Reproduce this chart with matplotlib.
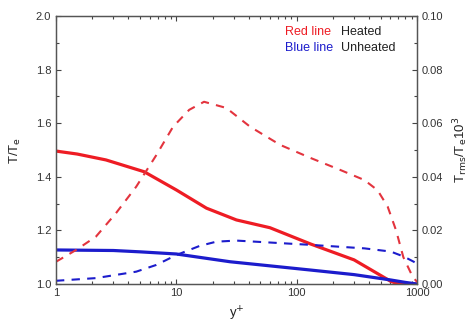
import numpy as np
import matplotlib.pyplot as plt
from matplotlib.ticker import MultipleLocator, LogLocator, NullFormatter, FixedLocator

plt.rcParams['font.family'] = ['Liberation Sans', 'DejaVu Sans']

# mean temperature T/Te (left axis)
yp_heat = [1, 1.5, 2.6, 5.4, 10, 17.8, 31.6, 60, 131, 300, 605, 700, 850, 1000]
t_heat = [1.496, 1.485, 1.463, 1.419, 1.351, 1.283, 1.239, 1.21, 1.149, 1.09, 1.01, 1.0, 1.0, 1.0]

yp_unh = [1, 3, 5, 10, 28, 131, 300, 605, 800, 1000]
t_unh = [1.127, 1.125, 1.12, 1.112, 1.083, 1.052, 1.035, 1.015, 1.006, 1.0]

# rms fluctuation Trms/Te (right axis)
yp_rms_heat = [1, 1.47, 2.15, 3.16, 4.64, 6.8, 9.4, 12.8, 17, 26, 41, 73, 131, 232, 365,
               470, 570, 670, 770, 920, 1000]
rms_heat = [0.0083, 0.0127, 0.0177, 0.0265, 0.0363, 0.048, 0.0587, 0.065, 0.068, 0.0657,
            0.0587, 0.0519, 0.047, 0.0425, 0.0388, 0.035, 0.0289, 0.020, 0.010, 0.0027, 0.0008]

yp_rms_unh = [1, 2.15, 4.64, 6.8, 10, 15.6, 21.5, 31.6, 131, 365, 605, 780, 940, 1000]
rms_unh = [0.0012, 0.0022, 0.0046, 0.0071, 0.0108, 0.0142, 0.0158, 0.0162, 0.0146, 0.0133,
           0.0121, 0.0102, 0.0083, 0.0075]

red = '#ee1c24'
blue = '#1c1ccc'
grey = '#444444'

fig = plt.figure(figsize=(4.72, 3.27), dpi=100)
ax = fig.add_axes([0.1186, 0.1315, 0.7649, 0.8195])
ax2 = ax.twinx()

ax.plot(yp_heat, t_heat, color=red, lw=2.3, solid_capstyle='butt')
ax.plot(yp_unh, t_unh, color=blue, lw=2.3, solid_capstyle='butt')
ax2.plot(yp_rms_heat, rms_heat, color='#e3343e', lw=1.5, dashes=(4, 3.5))
ax2.plot(yp_rms_unh, rms_unh, color=blue, lw=1.5, dashes=(4, 3.5))

ax.set_xscale('log')
ax.set_xlim(1, 1000)
ax.set_ylim(1.0, 2.0)
ax2.set_ylim(0.0, 0.1)

ax.xaxis.set_major_locator(FixedLocator([1, 10, 100, 1000]))
ax.set_xticklabels(['1', '10', '100', '1000'])
ax.xaxis.set_minor_locator(LogLocator(base=10, subs=np.arange(2, 10)))
ax.xaxis.set_minor_formatter(NullFormatter())
ax.yaxis.set_major_locator(MultipleLocator(0.2))
ax.yaxis.set_minor_locator(MultipleLocator(0.1))
ax.yaxis.set_major_formatter(plt.FuncFormatter(lambda v, p: f"{v:.1f}"))
ax2.yaxis.set_major_locator(MultipleLocator(0.02))
ax2.yaxis.set_minor_locator(MultipleLocator(0.01))
ax2.yaxis.set_major_formatter(plt.FuncFormatter(lambda v, p: f"{v:.2f}"))

for a in (ax, ax2):
    a.tick_params(which='both', direction='in', colors=grey, labelcolor='#333333',
                  labelsize=8, width=0.8)
    a.tick_params(which='major', length=3.5)
    a.tick_params(which='minor', length=2)
    for s in a.spines.values():
        s.set_color('#555555')
        s.set_linewidth(0.9)
ax.tick_params(which='both', top=True, right=False)
ax.tick_params(axis='x', pad=3)

ax.set_ylabel(r'T/T$_{\mathrm{e}}$', fontsize=9.5, color='#222222', labelpad=9)
ax.set_xlabel(r'y$^{+}$', fontsize=9.5, color='#222222', labelpad=5)
ax2.set_ylabel(r'T$_{\mathrm{rms}}$/T$_{\mathrm{e}}$10$^{3}$', fontsize=9.5,
               color='#222222', labelpad=6)

# legend as coloured text
ax.text(0.635, 0.93, 'Red line', transform=ax.transAxes, color=red, fontsize=9)
ax.text(0.79, 0.93, 'Heated', transform=ax.transAxes, color='#222222', fontsize=9)
ax.text(0.635, 0.87, 'Blue line', transform=ax.transAxes, color=blue, fontsize=9)
ax.text(0.79, 0.87, 'Unheated', transform=ax.transAxes, color='#222222', fontsize=9)

fig.savefig('out.png', dpi=100)
